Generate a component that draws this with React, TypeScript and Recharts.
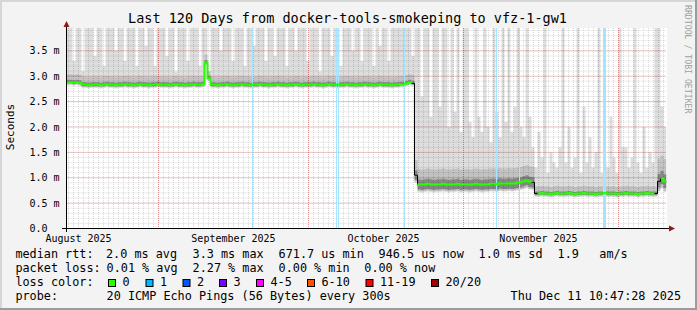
import React from "react";
import { ComposedChart, Area, Line, XAxis, YAxis, CartesianGrid, ReferenceLine } from "recharts";

// x values are days after 1 Aug 2025 00:00; one sample every 0.6 days
const START = 12.6;
const STEP = 0.6;

// median rtt in ms
const median = [
  2.88, 2.88, 2.87, 2.88, 2.87,
  2.83, 2.83, 2.82, 2.83, 2.83,
  2.83, 2.82, 2.83, 2.84, 2.83, 2.83, 2.82, 2.83, 2.83, 2.84,
  2.83, 2.83, 2.82, 2.83, 2.84, 2.83, 2.83, 2.82, 2.83, 2.83,
  2.84, 2.83, 2.83, 2.83, 2.82, 2.83, 2.84, 2.83, 2.83, 2.82,
  2.83, 2.83, 2.84, 2.83, 2.83, 2.84,
  3.27, 2.96,
  2.83, 2.83,
  2.82, 2.83, 2.83, 2.84, 2.83, 2.82, 2.83, 2.83, 2.84, 2.83,
  2.83, 2.82, 2.83, 2.83, 2.84, 2.83, 2.83, 2.82, 2.83, 2.83,
  2.84, 2.83, 2.83, 2.82, 2.83, 2.83, 2.84, 2.83, 2.82, 2.83,
  2.83, 2.83, 2.84, 2.83, 2.83, 2.82, 2.83, 2.84, 2.83, 2.83,
  2.82, 2.83, 2.83, 2.84, 2.83, 2.83, 2.82, 2.83, 2.83, 2.84,
  2.83, 2.83, 2.82, 2.83, 2.84, 2.83, 2.83, 2.83, 2.82, 2.83,
  2.83, 2.84, 2.84, 2.86, 2.88, 2.86,
  1.05, 0.87, 0.86, 0.87, 0.88, 0.87, 0.86, 0.87, 0.87, 0.88,
  0.87, 0.86, 0.87, 0.87, 0.88, 0.86, 0.87, 0.87, 0.86, 0.87,
  0.88, 0.87, 0.86, 0.87, 0.87, 0.88, 0.88, 0.87, 0.89, 0.88,
  0.88, 0.89, 0.88, 0.89, 0.9, 0.91, 0.93, 0.95, 0.92, 0.91,
  0.69, 0.69, 0.7, 0.69, 0.69, 0.68, 0.69, 0.7, 0.69, 0.69,
  0.69, 0.7, 0.69, 0.68, 0.69, 0.69, 0.7, 0.69, 0.69, 0.69,
  0.68, 0.69, 0.69, 0.7, 0.69, 0.69, 0.69, 0.68, 0.69, 0.69,
  0.7, 0.69, 0.69, 0.69, 0.68, 0.69, 0.69, 0.7, 0.69, 0.69, 0.69,
  0.93, 0.99, 0.92,
];

// upper edge of the light smoke (3.95 = runs off the top)
const smokeTop = [
  3.95, 3.95, 3.3, 3.95, 3.95, 3.1, 3.95, 3.95, 3.95, 3.4,
  3.95, 3.95, 3.2, 3.95, 3.95, 3.95, 3.5, 3.95, 3.95, 3.3,
  3.95, 3.95, 3.95, 3.2, 3.95, 3.95, 3.6, 3.95, 3.95, 3.2,
  3.95, 3.95, 3.95, 3.4, 3.95, 3.95, 3.1, 3.95, 3.95, 3.95,
  3.3, 3.95, 3.95, 3.95, 3.2, 3.95, 3.95, 3.1, 3.95, 3.95,
  3.95, 3.5, 3.95, 3.95, 3.95, 3.3, 3.95, 3.95, 3.95, 3.2,
  3.95, 3.95, 3.6, 3.95, 3.95, 3.95, 3.3, 3.95, 3.95, 3.4,
  3.95, 3.95, 3.95, 3.2, 3.95, 3.95, 3.5, 3.95, 3.95, 3.95,
  3.3, 3.95, 3.95, 3.95, 3.1, 3.95, 3.95, 3.95, 3.4, 3.95,
  3.95, 3.2, 3.95, 3.95, 3.95, 3.5, 3.95, 3.95, 3.3, 3.95,
  3.95, 3.95, 3.2, 3.95, 3.6, 3.95, 3.95, 3.3, 3.95, 3.95,
  3.95, 3.95, 3.95, 3.95, 3.95, 3.4,
  3.95, 3.95, 2.6, 3.95, 3.95, 2.2, 3.95, 3.95, 2.4, 3.95,
  3.95, 2.0, 3.95, 2.3, 3.95, 1.9, 3.95, 3.95, 2.1, 1.8,
  3.95, 2.2, 1.9, 3.95, 2.0, 1.7, 3.95, 2.3, 1.8, 3.95,
  2.1, 3.95, 1.9, 2.4, 3.95, 2.0, 1.8, 3.95, 2.2, 1.6,
  1.2, 1.9, 1.4, 3.95, 1.1, 1.5, 1.3, 1.2, 1.6, 3.95,
  1.3, 2.0, 1.2, 1.4, 3.95, 1.1, 2.4, 1.3, 1.8, 1.2,
  1.5, 3.95, 1.1, 1.3, 1.2, 2.2, 1.4, 1.1, 3.95, 1.6,
  1.6, 1.2, 1.4, 3.95, 1.3, 1.1, 2.0, 1.2, 1.5, 1.3, 3.95,
  3.95, 2.4, 2.0,
];

// smoke spread around the median for each level segment
const segStart = [0, 116, 156, 197];
const lightBelow = [0.06, 0.15, 0.07, 0.2];
const midBelow = [0.04, 0.13, 0.05, 0.18];
const midAbove = [0.16, 0.3, 0.14, 0.45];
const darkBelow = [0.02, 0.1, 0.03, 0.12];
const darkAbove = [0.05, 0.1, 0.04, 0.15];
const lineBreaks = [116, 156, 197];

// samples with 1/20 loss
const lossDays = [49.8, 66.6, 67.0, 80.2, 98.6, 103.2, 120.0, 120.2, 120.4];

const labelDays = [15, 46, 76, 107];
const monthLabels = ["August 2025", "September 2025", "October 2025", "November 2025"];
const monthDays = [31, 61, 92, 123];
const yTicks = [0, 0.5, 1, 1.5, 2, 2.5, 3, 3.5];
const yLabels = ["0.0", "0.5 m", "1.0 m", "1.5 m", "2.0 m", "2.5 m", "3.0 m", "3.5 m"];

const rttStats = ["2.0 ms avg", "3.3 ms max", "671.7 us min", "946.5 us now", "1.0 ms sd", "1.9", "am/s"];
const lossStats = ["0.01 % avg", "2.27 % max", "0.00 % min", "0.00 % now"];
const lossLabels = ["0", "1", "2", "3", "4-5", "6-10", "11-19", "20/20"];
const lossColors = ["#26ff00", "#00b8ff", "#0059ff", "#7e00ff", "#ff00ff", "#ff5500", "#ff0000", "#a00000"];

const rttX = [106, 192.6, 278.6, 378.6, 478.6, 557.6, 599.3];
const lossX = [106.6, 192.6, 278.6, 364.3];
const boxX = [108, 145.5, 182.5, 219, 256, 307, 365.5, 431];

const seg = (i: number) => {
  let s = 0;
  segStart.forEach((st, k) => { if (i >= st) s = k; });
  return s;
};

const rows: any[] = median.map((m, i) => {
  const s = seg(i);
  return {
    t: START + STEP * i,
    light: [m - lightBelow[s], smokeTop[i]],
    mid: [m - midBelow[s], Math.min(m + midAbove[s], smokeTop[i])],
    dark: [m - darkBelow[s], m + darkAbove[s]],
    median: m,
    green: lineBreaks.includes(i) ? null : m,
  };
});
rows.push({ ...rows[rows.length - 1], t: START + 120 });

const minorX: number[] = [];
for (let d = 13; d <= 132; d++) minorX.push(d);
const minorY: number[] = [];
for (let k = 1; k <= 39; k++) minorY.push(Math.round(k * 10) / 100);

const MONO = "'DejaVu Sans Mono', monospace";

const XTick = (props: any) => {
  const i = labelDays.indexOf(props.payload.value);
  return (
    <text x={props.x} y={241.5} textAnchor="middle" fontFamily={MONO} fontSize={10} fill="#000">
      {monthLabels[i]}
    </text>
  );
};

const YTick = (props: any) => {
  const i = yTicks.indexOf(props.payload.value);
  return (
    <text x={29.5} y={props.y + 3.6} textAnchor="start" fontFamily={MONO} fontSize={10} fill="#000">
      {yLabels[i]}
    </text>
  );
};

export default function App() {
  return (
    <div style={{ position: "absolute", left: 0, top: 0, width: 697, height: 310, background: "#f3f3f3", overflow: "hidden" }}>
      <div style={{ position: "absolute", left: 66.5, top: 28, width: 600, height: 200.5, background: "#fff" }} />
      <div style={{ position: "absolute", left: 0, top: 0 }}>
        <ComposedChart width={697} height={310} data={rows} margin={{ top: 28, right: 30.5, bottom: 61.5, left: 26.5 }}>
          <XAxis
            dataKey="t"
            type="number"
            domain={[START, START + 120]}
            ticks={labelDays}
            interval={0}
            tick={XTick}
            tickLine={false}
            axisLine={{ stroke: "#000" }}
            height={20}
            allowDataOverflow
          />
          <YAxis
            type="number"
            domain={[0, 3.95]}
            ticks={yTicks}
            interval={0}
            tick={YTick}
            tickLine={false}
            axisLine={{ stroke: "#000" }}
            width={40}
            allowDataOverflow
          />
          <Area dataKey="light" type="stepAfter" stroke="none" fill="#000" fillOpacity={0.13} isAnimationActive={false} dot={false} activeDot={false} />
          <Area dataKey="mid" type="stepAfter" stroke="none" fill="#000" fillOpacity={0.12} isAnimationActive={false} dot={false} activeDot={false} />
          <Area dataKey="dark" type="stepAfter" stroke="none" fill="#000" fillOpacity={0.3} isAnimationActive={false} dot={false} activeDot={false} />
          <CartesianGrid horizontalValues={minorY} verticalValues={minorX} stroke="rgba(186,186,186,0.55)" strokeDasharray="1 1" />
          <CartesianGrid horizontalValues={yTicks.slice(1)} verticalValues={monthDays} stroke="rgba(224,80,80,0.55)" strokeDasharray="1 1" />
          {lossDays.map((d, k) => (
            <ReferenceLine key={k} x={d} stroke="#a6e3ff" strokeWidth={1} />
          ))}
          <Line dataKey="median" type="stepAfter" stroke="#000" strokeWidth={1} dot={false} activeDot={false} isAnimationActive={false} />
          <Line dataKey="green" type="stepAfter" stroke="#26ff00" strokeWidth={2} dot={false} activeDot={false} connectNulls={false} isAnimationActive={false} />
        </ComposedChart>
      </div>
      <svg width={697} height={310} style={{ position: "absolute", left: 0, top: 0, pointerEvents: "none" }} fontFamily={MONO}>
        <rect x={0} y={0} width={697} height={2} fill="#d6d6d6" />
        <rect x={0} y={0} width={2} height={310} fill="#d6d6d6" />
        <rect x={695} y={0} width={2} height={310} fill="#9c9c9c" />
        <rect x={0} y={308} width={697} height={2} fill="#9c9c9c" />
        <line x1={62} y1={228.5} x2={671} y2={228.5} stroke="#000" />
        <line x1={66.5} y1={232} x2={66.5} y2={25} stroke="#000" />
        <polygon points="669,225.5 675,228.5 669,231.5" fill="#8b1a1a" />
        <polygon points="63.5,27 66.5,21 69.5,27" fill="#8b1a1a" />
        <text x={347.5} y={23.4} textAnchor="middle" fontSize={13.5} fill="#000">
          Last 120 Days from docker-tools-smokeping to vfz-1-gw1
        </text>
        <text transform="translate(14,127) rotate(-90)" textAnchor="middle" fontSize={11} fill="#000">
          Seconds
        </text>
        <text transform="translate(685,5) rotate(90)" textAnchor="start" fontSize={8.2} fill="#a0a0a0">
          RRDTOOL / TOBI OETIKER
        </text>
        <g fontSize={11.8} fill="#000">
          <text x={15.4} y={258.3}>median rtt:</text>
          {rttStats.map((s, k) => (
            <text key={k} x={rttX[k]} y={258.3}>{s}</text>
          ))}
          <text x={15.4} y={272.3}>packet loss:</text>
          {lossStats.map((s, k) => (
            <text key={k} x={lossX[k]} y={272.3}>{s}</text>
          ))}
          <text x={15.4} y={286.3}>loss color:</text>
          {lossLabels.map((s, k) => (
            <g key={k}>
              <rect x={boxX[k] + 0.5} y={279.5} width={7} height={7} fill={lossColors[k]} stroke="#000" />
              <text x={boxX[k] + 14.5} y={286.3}>{s}</text>
            </g>
          ))}
          <text x={15.4} y={300.3}>probe:</text>
          <text x={106.6} y={300.3}>20 ICMP Echo Pings (56 Bytes) every 300s</text>
          <text x={681} y={300.3} textAnchor="end">Thu Dec 11 10:47:28 2025</text>
        </g>
      </svg>
    </div>
  );
}
